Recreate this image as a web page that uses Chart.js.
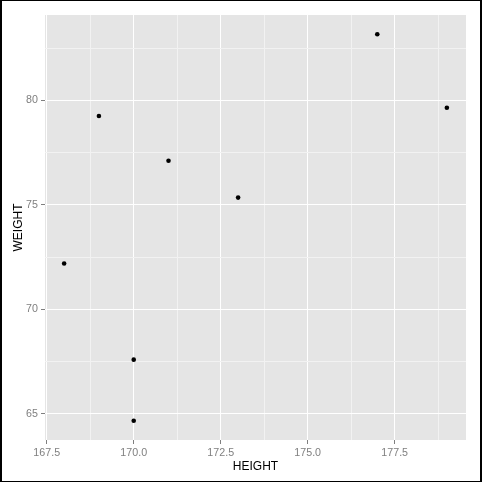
<!DOCTYPE html>
<html>
<head>
<meta charset="utf-8">
<script src="https://cdn.jsdelivr.net/npm/chart.js@4/dist/chart.umd.min.js"></script>
<style>
  html, body { margin: 0; padding: 0; background: #ffffff; }
  #wrap { width: 482px; height: 482px; }
</style>
</head>
<body>
<div id="wrap"><canvas id="c" width="482" height="482"></canvas></div>
<script>
const heights = [168, 169, 170, 170, 171, 173, 177, 179];
const weights = [72.2, 79.25, 67.6, 64.68, 77.11, 75.35, 83.16, 79.65];
const xTicks = [167.5, 168.75, 170, 171.25, 172.5, 173.75, 175, 176.25, 177.5, 178.75];
const yTicks = [65, 67.5, 70, 72.5, 75, 77.5, 80, 82.5];
const xLabelStep = 2.5;
const yLabelStep = 5;

function isMajor(v, step) {
  return Math.abs(Math.round(v / step) * step - v) < 1e-6;
}

const xMin = Math.min(...heights), xMax = Math.max(...heights);
const yMin = Math.min(...weights), yMax = Math.max(...weights);
const xPad = (xMax - xMin) * 0.05, yPad = (yMax - yMin) * 0.05;

const bgPlugin = {
  id: 'bg',
  beforeDraw(chart) {
    const {ctx, chartArea: a} = chart;
    ctx.save();
    ctx.fillStyle = '#E5E5E5';
    ctx.fillRect(a.left, a.top, a.right - a.left, a.bottom - a.top);
    ctx.restore();
  },
  afterDraw(chart) {
    const ctx = chart.ctx;
    ctx.save();
    ctx.fillStyle = '#000000';
    ctx.fillRect(0, 0, 482, 1);
    ctx.fillRect(0, 481, 482, 1);
    ctx.fillRect(0, 0, 2, 482);
    ctx.fillRect(480, 0, 2, 482);
    ctx.restore();
  }
};

const tickFont = { family: '"Liberation Sans", Arial, sans-serif', size: 10.7 };
const titleFont = { family: '"Liberation Sans", Arial, sans-serif', size: 12 };

new Chart(document.getElementById('c'), {
  type: 'scatter',
  data: {
    datasets: [{
      data: heights.map((h, i) => ({ x: h, y: weights[i] })),
      backgroundColor: '#000000',
      borderColor: '#000000',
      borderWidth: 0,
      pointRadius: 2.3,
      pointHoverRadius: 2.3
    }]
  },
  options: {
    responsive: false,
    animation: false,
    layout: { padding: { top: 15, right: 16, left: 0, bottom: 0 } },
    plugins: { legend: { display: false }, tooltip: { enabled: false } },
    scales: {
      x: {
        type: 'linear',
        min: xMin - xPad,
        max: xMax + xPad,
        afterBuildTicks(s) { s.ticks = xTicks.map(v => ({ value: v })); },
        afterFit(s) { s.height = 42; },
        border: { display: false },
        grid: {
          color: c => isMajor(c.tick.value, xLabelStep) ? '#FFFFFF' : '#F2F2F2',
          lineWidth: 1,
          tickColor: c => isMajor(c.tick.value, xLabelStep) ? '#7F7F7F' : 'rgba(0,0,0,0)',
          tickLength: 4,
          drawTicks: true
        },
        ticks: {
          autoSkip: false,
          maxRotation: 0,
          color: '#7F7F7F',
          font: tickFont,
          padding: 3,
          callback: v => isMajor(v, xLabelStep) ? v.toFixed(1) : ''
        },
        title: {
          display: true,
          text: 'HEIGHT',
          color: '#000000',
          font: titleFont,
          padding: { top: 0, bottom: 8 }
        }
      },
      y: {
        type: 'linear',
        min: yMin - yPad,
        max: yMax + yPad,
        afterBuildTicks(s) { s.ticks = yTicks.map(v => ({ value: v })); },
        afterFit(s) { s.width = 45; },
        border: { display: false },
        grid: {
          color: c => isMajor(c.tick.value, yLabelStep) ? '#FFFFFF' : '#F2F2F2',
          lineWidth: 1,
          tickColor: c => isMajor(c.tick.value, yLabelStep) ? '#7F7F7F' : 'rgba(0,0,0,0)',
          tickLength: 4,
          drawTicks: true
        },
        ticks: {
          autoSkip: false,
          color: '#7F7F7F',
          font: tickFont,
          padding: 3,
          callback: v => isMajor(v, yLabelStep) ? String(v) : ''
        },
        title: {
          display: true,
          text: 'WEIGHT',
          color: '#000000',
          font: titleFont,
          padding: { top: 11, bottom: 0 }
        }
      }
    }
  },
  plugins: [bgPlugin]
});
</script>
</body>
</html>
